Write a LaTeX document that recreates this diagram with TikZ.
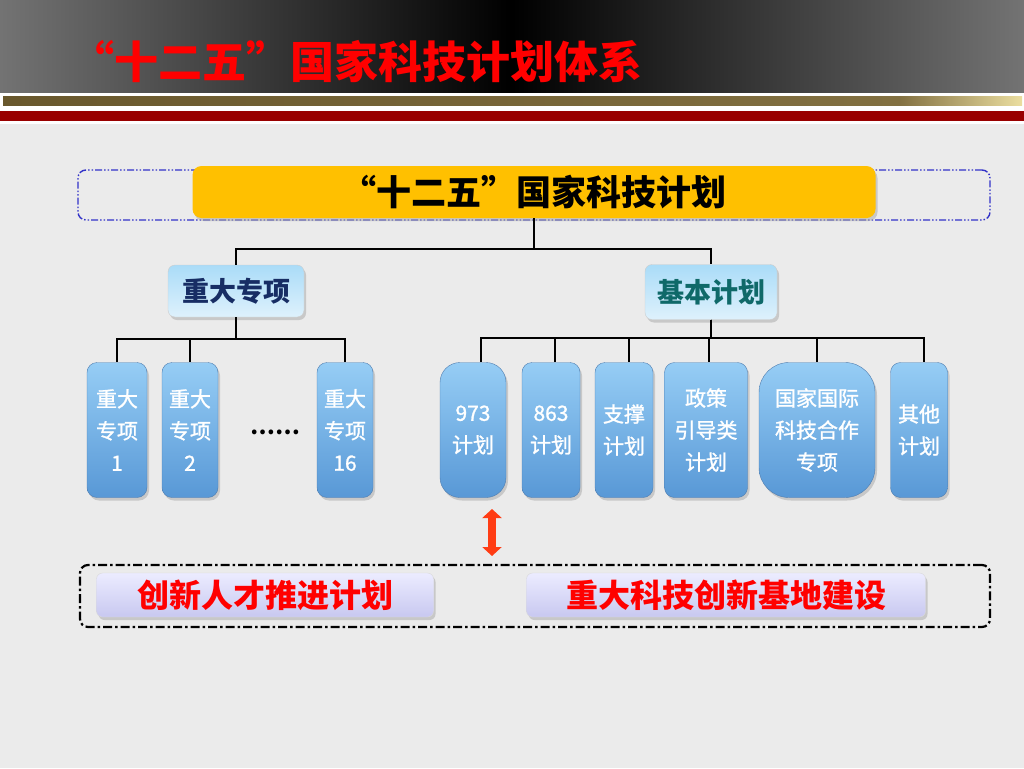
\documentclass[tikz,border=0pt]{standalone}
\usepackage{fontspec}
\newfontfamily\cjk{Noto Sans CJK SC}
\newfontfamily\cjkmed[FakeBold=1.2]{Noto Sans CJK SC}
\usetikzlibrary{positioning,shadows,arrows.meta}

\definecolor{bggray}{RGB}{235,235,235}
\definecolor{bargray}{RGB}{115,115,115}
\definecolor{goldA}{RGB}{105,88,45}
\definecolor{goldM}{RGB}{130,112,65}
\definecolor{goldB}{RGB}{235,222,160}
\definecolor{barred}{RGB}{153,0,0}
\definecolor{yellowbox}{RGB}{255,192,0}
\definecolor{midtop}{RGB}{170,220,248}
\definecolor{midbot}{RGB}{222,241,252}
\definecolor{navytext}{RGB}{23,45,100}
\definecolor{tealtext}{RGB}{15,105,105}
\definecolor{leaftop}{RGB}{150,205,245}
\definecolor{leafbot}{RGB}{88,152,214}
\definecolor{leafedge}{RGB}{80,125,175}
\definecolor{lavtop}{RGB}{236,236,255}
\definecolor{lavbot}{RGB}{200,200,240}
\definecolor{framblue}{RGB}{50,50,200}
\definecolor{arrowred}{RGB}{255,60,20}

\begin{document}
\begin{tikzpicture}[
                    x=1pt, y=-1pt,
                    boxshadow/.style={
                        drop shadow={shadow xshift=2pt, shadow yshift=-3pt, fill=black!35}
                    },
                    head/.style={
                        rectangle,
                        rounded corners=9pt,
                        fill=yellowbox,
                        boxshadow,
                        minimum width=683pt,
                        minimum height=52pt,
                        font=\cjk\bfseries\fontsize{35}{40}\selectfont
                    },
                    mid/.style={
                        rectangle,
                        rounded corners=7pt,
                        draw=black!20,
                        top color=midtop,
                        bottom color=midbot,
                        boxshadow,
                        minimum height=52pt,
                        font=\cjk\bfseries\fontsize{27}{30}\selectfont
                    },
                    leaf/.style={
                        rectangle,
                        rounded corners=10pt,
                        draw=leafedge,
                        top color=leaftop,
                        bottom color=leafbot,
                        boxshadow,
                        text=white,
                        align=center,
                        inner sep=0pt,
                        minimum height=135pt,
                        font=\cjkmed\fontsize{21}{32}\selectfont
                    },
                    extra/.style={
                        rectangle,
                        rounded corners=6pt,
                        draw=black!15,
                        top color=lavtop,
                        bottom color=lavbot,
                        boxshadow,
                        text=red,
                        minimum height=44pt,
                        font=\cjk\bfseries\fontsize{32}{36}\selectfont
                    },
                    link/.style={draw, line width=2.4pt}
                ]

                    % Background and title bar
                    \fill[bggray] (0,0) rectangle (1024,768);
                    \shade[left color=bargray, right color=bargray, middle color=black] (0,0) rectangle (1024,93);
                    \fill[white] (0,93) rectangle (1024,124);
                    \shade[left color=goldA, right color=goldM] (3,96) rectangle (900,105);
                    \shade[left color=goldM, right color=goldB] (899,96) rectangle (1022,105);
                    \fill[barred] (0,111) rectangle (1024,121);
                    \node[anchor=west, inner sep=0pt, text=red, font=\cjk\bfseries\fontsize{44}{48}\selectfont] (title) at (70,62) {“十二五”国家科技计划体系};

                    % Frames
                    \node[draw=framblue, line width=1.4pt, rounded corners=8pt,
                          dash pattern=on 7pt off 2pt on 1.5pt off 2pt on 1.5pt off 2pt,
                          minimum width=912pt, minimum height=50pt] (topframe) at (534,195) {};
                    \node[draw=black, line width=2.2pt, rounded corners=8pt,
                          dash pattern=on 9pt off 3pt on 2.5pt off 3pt,
                          minimum width=910pt, minimum height=62pt] (botframe) at (535,596) {};

                    % Nodes
                    \node[head] (top) at (534,192) {“十二五”国家科技计划};
                    \node[mid, text=navytext, minimum width=136pt] (zd) at (236,291) {重大专项};
                    \node[mid, text=tealtext, minimum width=132pt, minimum height=55pt] (jb) at (711,292) {基本计划};

                    \node[leaf, minimum width=60pt] (zd1) at (117,430) {重大\\专项\\1};
                    \node[leaf, minimum width=56pt] (zd2) at (190,430) {重大\\专项\\2};
                    \node[inner sep=0pt, font=\cjk\bfseries\fontsize{22}{24}\selectfont] (zddots) at (275,432) {……};
                    \node[leaf, minimum width=56pt] (zd16) at (345,430) {重大\\专项\\16};

                    \node[leaf, minimum width=66pt, rounded corners=20pt] (p973) at (473,430) {973\\计划};
                    \node[leaf, minimum width=58pt] (p863) at (551,430) {863\\计划};
                    \node[leaf, minimum width=58pt] (zc) at (624,430) {支撑\\计划};
                    \node[leaf, minimum width=83pt] (zcyd) at (706,430) {政策\\引导类\\计划};
                    \node[leaf, minimum width=116pt, rounded corners=30pt] (gjhz) at (817,430) {国家国际\\科技合作\\专项};
                    \node[leaf, minimum width=57pt] (qt) at (919,430) {其他\\计划};

                    \node[extra, minimum width=337pt] (rc) at (265,595) {创新人才推进计划};
                    \node[extra, minimum width=399pt] (jd) at (726,595) {重大科技创新基地建设};

                    % Edges
                    \draw[link] (top.south) -- ++(0,31) -| (zd.north);
                    \draw[link] (top.south) -- ++(0,31) -| (jb.north);
                    \draw[link] (zd.south) -- ++(0,22) -| (zd1.north);
                    \draw[link] (zd.south) -- ++(0,22) -| (zd2.north);
                    \draw[link] (zd.south) -- ++(0,22) -| (zd16.north);
                    \draw[link] (jb.south) -- ++(0,18) -| ([xshift=8pt]p973.north);
                    \draw[link] (jb.south) -- ++(0,18) -| ([xshift=4pt]p863.north);
                    \draw[link] (jb.south) -- ++(0,18) -| ([xshift=5pt]zc.north);
                    \draw[link] (jb.south) -- ++(0,18) -| ([xshift=3pt]zcyd.north);
                    \draw[link] (jb.south) -- ++(0,18) -| (gjhz.north);
                    \draw[link] (jb.south) -- ++(0,18) -| ([xshift=5pt]qt.north);

                    \coordinate (arrtop) at (492,509);
                    \coordinate (arrbot) at (492,556);
                    \draw[arrowred, line width=8pt, {Triangle[width=19pt,length=9pt]}-{Triangle[width=19pt,length=9pt]}] (arrtop) -- (arrbot);
                \end{tikzpicture}
\end{document}
